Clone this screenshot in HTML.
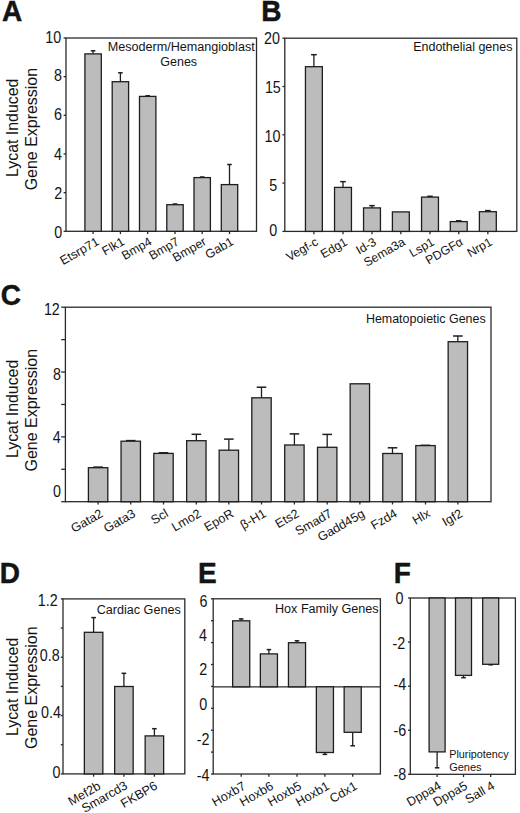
<!DOCTYPE html>
<html><head><meta charset="utf-8"><title>Figure</title>
<style>
html,body{margin:0;padding:0;background:#fff;}
body{width:520px;height:813px;overflow:hidden;}
svg{display:block;}
text{font-family:"Liberation Sans", sans-serif;}
</style></head>
<body>
<svg width="520" height="813" viewBox="0 0 520 813">
<rect x="0" y="0" width="520" height="813" fill="#fff"/>
<text transform="translate(2.00 20.82) scale(0.95 1)" x="0" y="0" font-size="29.5" font-weight="bold" fill="#141414" style="stroke:#111;stroke-width:0.45px">A</text>
<rect x="66.00" y="38.00" width="190.50" height="193.30" fill="none" stroke="#2a2a2a" stroke-width="1.3"/>
<line x1="63.60" y1="231.30" x2="66.00" y2="231.30" stroke="#2a2a2a" stroke-width="1.3"/>
<line x1="63.60" y1="192.64" x2="66.00" y2="192.64" stroke="#2a2a2a" stroke-width="1.3"/>
<line x1="63.60" y1="153.98" x2="66.00" y2="153.98" stroke="#2a2a2a" stroke-width="1.3"/>
<line x1="63.60" y1="115.32" x2="66.00" y2="115.32" stroke="#2a2a2a" stroke-width="1.3"/>
<line x1="63.60" y1="76.66" x2="66.00" y2="76.66" stroke="#2a2a2a" stroke-width="1.3"/>
<line x1="63.60" y1="38.00" x2="66.00" y2="38.00" stroke="#2a2a2a" stroke-width="1.3"/>
<text transform="translate(53.30 42.76) scale(0.89 1)" x="0" y="0" font-size="16.1" text-anchor="middle" fill="#141414">10</text>
<text transform="translate(58.10 81.16) scale(0.89 1)" x="0" y="0" font-size="16.1" text-anchor="middle" fill="#141414">8</text>
<text transform="translate(58.00 120.36) scale(0.89 1)" x="0" y="0" font-size="16.1" text-anchor="middle" fill="#141414">6</text>
<text transform="translate(58.00 159.81) scale(0.89 1)" x="0" y="0" font-size="16.1" text-anchor="middle" fill="#141414">4</text>
<text transform="translate(58.30 199.36) scale(0.89 1)" x="0" y="0" font-size="16.1" text-anchor="middle" fill="#141414">2</text>
<text transform="translate(58.15 237.66) scale(0.89 1)" x="0" y="0" font-size="16.1" text-anchor="middle" fill="#141414">0</text>
<line x1="93.10" y1="53.90" x2="93.10" y2="50.80" stroke="#1e1e1e" stroke-width="1.3"/>
<line x1="90.80" y1="50.80" x2="95.40" y2="50.80" stroke="#1e1e1e" stroke-width="1.5"/>
<rect x="84.90" y="53.90" width="16.40" height="177.40" fill="#bcbcbc" stroke="#1e1e1e" stroke-width="1.3"/>
<line x1="120.40" y1="81.70" x2="120.40" y2="72.80" stroke="#1e1e1e" stroke-width="1.3"/>
<line x1="118.10" y1="72.80" x2="122.70" y2="72.80" stroke="#1e1e1e" stroke-width="1.5"/>
<rect x="112.20" y="81.70" width="16.40" height="149.60" fill="#bcbcbc" stroke="#1e1e1e" stroke-width="1.3"/>
<line x1="147.70" y1="96.40" x2="147.70" y2="95.80" stroke="#1e1e1e" stroke-width="1.3"/>
<line x1="145.40" y1="95.80" x2="150.00" y2="95.80" stroke="#1e1e1e" stroke-width="1.5"/>
<rect x="139.50" y="96.40" width="16.40" height="134.90" fill="#bcbcbc" stroke="#1e1e1e" stroke-width="1.3"/>
<line x1="175.00" y1="204.70" x2="175.00" y2="204.00" stroke="#1e1e1e" stroke-width="1.3"/>
<line x1="172.70" y1="204.00" x2="177.30" y2="204.00" stroke="#1e1e1e" stroke-width="1.5"/>
<rect x="166.80" y="204.70" width="16.40" height="26.60" fill="#bcbcbc" stroke="#1e1e1e" stroke-width="1.3"/>
<line x1="199.90" y1="177.00" x2="204.50" y2="177.00" stroke="#1e1e1e" stroke-width="1.5"/>
<rect x="194.00" y="177.60" width="16.40" height="53.70" fill="#bcbcbc" stroke="#1e1e1e" stroke-width="1.3"/>
<line x1="229.50" y1="184.60" x2="229.50" y2="164.50" stroke="#1e1e1e" stroke-width="1.3"/>
<line x1="227.20" y1="164.50" x2="231.80" y2="164.50" stroke="#1e1e1e" stroke-width="1.5"/>
<rect x="221.30" y="184.60" width="16.40" height="46.70" fill="#bcbcbc" stroke="#1e1e1e" stroke-width="1.3"/>
<line x1="93.10" y1="231.30" x2="93.10" y2="234.10" stroke="#2a2a2a" stroke-width="1.3"/>
<line x1="120.40" y1="231.30" x2="120.40" y2="234.10" stroke="#2a2a2a" stroke-width="1.3"/>
<line x1="147.70" y1="231.30" x2="147.70" y2="234.10" stroke="#2a2a2a" stroke-width="1.3"/>
<line x1="175.00" y1="231.30" x2="175.00" y2="234.10" stroke="#2a2a2a" stroke-width="1.3"/>
<line x1="202.20" y1="231.30" x2="202.20" y2="234.10" stroke="#2a2a2a" stroke-width="1.3"/>
<line x1="229.50" y1="231.30" x2="229.50" y2="234.10" stroke="#2a2a2a" stroke-width="1.3"/>
<text x="100.00" y="244.00" font-size="12.4" text-anchor="end" fill="#141414" transform="rotate(-30 100.00 244.00)">Etsrp71</text>
<text x="125.40" y="244.00" font-size="12.4" text-anchor="end" fill="#141414" transform="rotate(-30 125.40 244.00)">Flk1</text>
<text x="152.70" y="244.00" font-size="12.4" text-anchor="end" fill="#141414" transform="rotate(-30 152.70 244.00)">Bmp4</text>
<text x="180.00" y="244.00" font-size="12.4" text-anchor="end" fill="#141414" transform="rotate(-30 180.00 244.00)">Bmp7</text>
<text x="207.20" y="244.00" font-size="12.4" text-anchor="end" fill="#141414" transform="rotate(-30 207.20 244.00)">Bmper</text>
<text x="234.50" y="244.00" font-size="12.4" text-anchor="end" fill="#141414" transform="rotate(-30 234.50 244.00)">Gab1</text>
<text x="107.70" y="50.80" font-size="12.5" text-anchor="start" font-weight="normal" fill="#141414" textLength="147" lengthAdjust="spacingAndGlyphs" >Mesoderm/Hemangioblast</text>
<text x="178.70" y="65.60" font-size="12.5" text-anchor="middle" font-weight="normal" fill="#141414" >Genes</text>
<text x="0" y="0" font-size="16.2" text-anchor="middle" fill="#141414" transform="translate(17.70 127.80) rotate(-90)" textLength="98.3" lengthAdjust="spacingAndGlyphs">Lycat Induced</text>
<text x="0" y="0" font-size="16.2" text-anchor="middle" fill="#141414" transform="translate(36.90 129.10) rotate(-90)" textLength="122.5" lengthAdjust="spacingAndGlyphs">Gene Expression</text>
<text transform="translate(261.30 21.12) scale(0.95 1)" x="0" y="0" font-size="29.5" font-weight="bold" fill="#141414" style="stroke:#111;stroke-width:0.45px">B</text>
<rect x="284.80" y="38.20" width="232.00" height="193.20" fill="none" stroke="#2a2a2a" stroke-width="1.3"/>
<line x1="282.40" y1="231.40" x2="284.80" y2="231.40" stroke="#2a2a2a" stroke-width="1.3"/>
<line x1="282.40" y1="183.10" x2="284.80" y2="183.10" stroke="#2a2a2a" stroke-width="1.3"/>
<line x1="282.40" y1="134.80" x2="284.80" y2="134.80" stroke="#2a2a2a" stroke-width="1.3"/>
<line x1="282.40" y1="86.50" x2="284.80" y2="86.50" stroke="#2a2a2a" stroke-width="1.3"/>
<line x1="282.40" y1="38.20" x2="284.80" y2="38.20" stroke="#2a2a2a" stroke-width="1.3"/>
<text transform="translate(272.00 44.01) scale(0.89 1)" x="0" y="0" font-size="16.1" text-anchor="middle" fill="#141414">20</text>
<text transform="translate(272.85 93.01) scale(0.89 1)" x="0" y="0" font-size="16.1" text-anchor="middle" fill="#141414">15</text>
<text transform="translate(272.40 142.16) scale(0.89 1)" x="0" y="0" font-size="16.1" text-anchor="middle" fill="#141414">10</text>
<text transform="translate(273.15 190.86) scale(0.89 1)" x="0" y="0" font-size="16.1" text-anchor="middle" fill="#141414">5</text>
<text transform="translate(273.15 235.66) scale(0.89 1)" x="0" y="0" font-size="16.1" text-anchor="middle" fill="#141414">0</text>
<line x1="313.90" y1="66.70" x2="313.90" y2="54.70" stroke="#1e1e1e" stroke-width="1.3"/>
<line x1="311.10" y1="54.70" x2="316.70" y2="54.70" stroke="#1e1e1e" stroke-width="1.5"/>
<rect x="305.45" y="66.70" width="16.90" height="164.70" fill="#bcbcbc" stroke="#1e1e1e" stroke-width="1.3"/>
<line x1="343.00" y1="187.40" x2="343.00" y2="181.65" stroke="#1e1e1e" stroke-width="1.3"/>
<line x1="340.20" y1="181.65" x2="345.80" y2="181.65" stroke="#1e1e1e" stroke-width="1.5"/>
<rect x="334.55" y="187.40" width="16.90" height="44.00" fill="#bcbcbc" stroke="#1e1e1e" stroke-width="1.3"/>
<line x1="372.00" y1="207.90" x2="372.00" y2="205.65" stroke="#1e1e1e" stroke-width="1.3"/>
<line x1="369.20" y1="205.65" x2="374.80" y2="205.65" stroke="#1e1e1e" stroke-width="1.5"/>
<rect x="363.55" y="207.90" width="16.90" height="23.50" fill="#bcbcbc" stroke="#1e1e1e" stroke-width="1.3"/>
<rect x="392.40" y="211.90" width="16.90" height="19.50" fill="#bcbcbc" stroke="#1e1e1e" stroke-width="1.3"/>
<line x1="430.00" y1="197.10" x2="430.00" y2="196.30" stroke="#1e1e1e" stroke-width="1.3"/>
<line x1="427.20" y1="196.30" x2="432.80" y2="196.30" stroke="#1e1e1e" stroke-width="1.5"/>
<rect x="421.55" y="197.10" width="16.90" height="34.30" fill="#bcbcbc" stroke="#1e1e1e" stroke-width="1.3"/>
<line x1="458.75" y1="221.60" x2="458.75" y2="220.80" stroke="#1e1e1e" stroke-width="1.3"/>
<line x1="455.95" y1="220.80" x2="461.55" y2="220.80" stroke="#1e1e1e" stroke-width="1.5"/>
<rect x="450.30" y="221.60" width="16.90" height="9.80" fill="#bcbcbc" stroke="#1e1e1e" stroke-width="1.3"/>
<line x1="487.85" y1="211.70" x2="487.85" y2="210.60" stroke="#1e1e1e" stroke-width="1.3"/>
<line x1="485.05" y1="210.60" x2="490.65" y2="210.60" stroke="#1e1e1e" stroke-width="1.5"/>
<rect x="479.40" y="211.70" width="16.90" height="19.70" fill="#bcbcbc" stroke="#1e1e1e" stroke-width="1.3"/>
<line x1="313.90" y1="231.40" x2="313.90" y2="234.20" stroke="#2a2a2a" stroke-width="1.3"/>
<line x1="343.00" y1="231.40" x2="343.00" y2="234.20" stroke="#2a2a2a" stroke-width="1.3"/>
<line x1="372.00" y1="231.40" x2="372.00" y2="234.20" stroke="#2a2a2a" stroke-width="1.3"/>
<line x1="400.85" y1="231.40" x2="400.85" y2="234.20" stroke="#2a2a2a" stroke-width="1.3"/>
<line x1="430.00" y1="231.40" x2="430.00" y2="234.20" stroke="#2a2a2a" stroke-width="1.3"/>
<line x1="458.75" y1="231.40" x2="458.75" y2="234.20" stroke="#2a2a2a" stroke-width="1.3"/>
<line x1="487.85" y1="231.40" x2="487.85" y2="234.20" stroke="#2a2a2a" stroke-width="1.3"/>
<text x="319.10" y="244.30" font-size="12.2" text-anchor="end" fill="#141414" transform="rotate(-30 319.10 244.30)">Vegf-c</text>
<text x="348.20" y="244.30" font-size="12.2" text-anchor="end" fill="#141414" transform="rotate(-30 348.20 244.30)">Edg1</text>
<text x="377.20" y="244.30" font-size="12.2" text-anchor="end" fill="#141414" transform="rotate(-30 377.20 244.30)">Id-3</text>
<text x="406.05" y="244.30" font-size="12.2" text-anchor="end" fill="#141414" transform="rotate(-30 406.05 244.30)">Sema3a</text>
<text x="435.20" y="244.30" font-size="12.2" text-anchor="end" fill="#141414" transform="rotate(-30 435.20 244.30)">Lsp1</text>
<text x="463.95" y="244.30" font-size="12.2" text-anchor="end" fill="#141414" transform="rotate(-30 463.95 244.30)">PDGF&#945;</text>
<text x="493.05" y="244.30" font-size="12.2" text-anchor="end" fill="#141414" transform="rotate(-30 493.05 244.30)">Nrp1</text>
<text x="413.20" y="51.10" font-size="12.5" text-anchor="start" font-weight="normal" fill="#141414" textLength="99.2" lengthAdjust="spacingAndGlyphs" >Endothelial genes</text>
<text transform="translate(0.70 304.92) scale(0.95 1)" x="0" y="0" font-size="29.5" font-weight="bold" fill="#141414" style="stroke:#111;stroke-width:0.45px">C</text>
<rect x="65.40" y="307.20" width="425.60" height="194.50" fill="none" stroke="#2a2a2a" stroke-width="1.3"/>
<line x1="61.20" y1="501.70" x2="65.40" y2="501.70" stroke="#2a2a2a" stroke-width="1.3"/>
<line x1="61.20" y1="469.28" x2="65.40" y2="469.28" stroke="#2a2a2a" stroke-width="1.3"/>
<line x1="61.20" y1="436.87" x2="65.40" y2="436.87" stroke="#2a2a2a" stroke-width="1.3"/>
<line x1="61.20" y1="404.45" x2="65.40" y2="404.45" stroke="#2a2a2a" stroke-width="1.3"/>
<line x1="61.20" y1="372.03" x2="65.40" y2="372.03" stroke="#2a2a2a" stroke-width="1.3"/>
<line x1="61.20" y1="339.62" x2="65.40" y2="339.62" stroke="#2a2a2a" stroke-width="1.3"/>
<line x1="61.20" y1="307.20" x2="65.40" y2="307.20" stroke="#2a2a2a" stroke-width="1.3"/>
<text transform="translate(51.85 315.11) scale(0.89 1)" x="0" y="0" font-size="16.1" text-anchor="middle" fill="#141414">12</text>
<text transform="translate(56.95 379.66) scale(0.89 1)" x="0" y="0" font-size="16.1" text-anchor="middle" fill="#141414">8</text>
<text transform="translate(56.80 443.26) scale(0.89 1)" x="0" y="0" font-size="16.1" text-anchor="middle" fill="#141414">4</text>
<text transform="translate(57.00 496.56) scale(0.89 1)" x="0" y="0" font-size="16.1" text-anchor="middle" fill="#141414">0</text>
<line x1="93.30" y1="467.10" x2="102.90" y2="467.10" stroke="#1e1e1e" stroke-width="1.5"/>
<rect x="88.40" y="467.70" width="19.40" height="34.00" fill="#bcbcbc" stroke="#1e1e1e" stroke-width="1.3"/>
<line x1="125.95" y1="440.60" x2="135.55" y2="440.60" stroke="#1e1e1e" stroke-width="1.5"/>
<rect x="121.05" y="441.20" width="19.40" height="60.50" fill="#bcbcbc" stroke="#1e1e1e" stroke-width="1.3"/>
<line x1="158.70" y1="452.80" x2="168.30" y2="452.80" stroke="#1e1e1e" stroke-width="1.5"/>
<rect x="153.80" y="453.40" width="19.40" height="48.30" fill="#bcbcbc" stroke="#1e1e1e" stroke-width="1.3"/>
<line x1="196.35" y1="440.70" x2="196.35" y2="434.30" stroke="#1e1e1e" stroke-width="1.3"/>
<line x1="191.55" y1="434.30" x2="201.15" y2="434.30" stroke="#1e1e1e" stroke-width="1.5"/>
<rect x="186.65" y="440.70" width="19.40" height="61.00" fill="#bcbcbc" stroke="#1e1e1e" stroke-width="1.3"/>
<line x1="228.85" y1="450.20" x2="228.85" y2="439.10" stroke="#1e1e1e" stroke-width="1.3"/>
<line x1="224.05" y1="439.10" x2="233.65" y2="439.10" stroke="#1e1e1e" stroke-width="1.5"/>
<rect x="219.15" y="450.20" width="19.40" height="51.50" fill="#bcbcbc" stroke="#1e1e1e" stroke-width="1.3"/>
<line x1="261.50" y1="397.80" x2="261.50" y2="387.20" stroke="#1e1e1e" stroke-width="1.3"/>
<line x1="256.70" y1="387.20" x2="266.30" y2="387.20" stroke="#1e1e1e" stroke-width="1.5"/>
<rect x="251.80" y="397.80" width="19.40" height="103.90" fill="#bcbcbc" stroke="#1e1e1e" stroke-width="1.3"/>
<line x1="294.40" y1="445.00" x2="294.40" y2="433.90" stroke="#1e1e1e" stroke-width="1.3"/>
<line x1="289.60" y1="433.90" x2="299.20" y2="433.90" stroke="#1e1e1e" stroke-width="1.5"/>
<rect x="284.70" y="445.00" width="19.40" height="56.70" fill="#bcbcbc" stroke="#1e1e1e" stroke-width="1.3"/>
<line x1="327.20" y1="447.30" x2="327.20" y2="434.40" stroke="#1e1e1e" stroke-width="1.3"/>
<line x1="322.40" y1="434.40" x2="332.00" y2="434.40" stroke="#1e1e1e" stroke-width="1.5"/>
<rect x="317.50" y="447.30" width="19.40" height="54.40" fill="#bcbcbc" stroke="#1e1e1e" stroke-width="1.3"/>
<rect x="350.15" y="383.80" width="19.40" height="117.90" fill="#bcbcbc" stroke="#1e1e1e" stroke-width="1.3"/>
<line x1="392.50" y1="453.50" x2="392.50" y2="447.80" stroke="#1e1e1e" stroke-width="1.3"/>
<line x1="387.70" y1="447.80" x2="397.30" y2="447.80" stroke="#1e1e1e" stroke-width="1.5"/>
<rect x="382.80" y="453.50" width="19.40" height="48.20" fill="#bcbcbc" stroke="#1e1e1e" stroke-width="1.3"/>
<line x1="420.70" y1="445.30" x2="430.30" y2="445.30" stroke="#1e1e1e" stroke-width="1.5"/>
<rect x="415.80" y="445.60" width="19.40" height="56.10" fill="#bcbcbc" stroke="#1e1e1e" stroke-width="1.3"/>
<line x1="457.85" y1="341.70" x2="457.85" y2="336.00" stroke="#1e1e1e" stroke-width="1.3"/>
<line x1="453.05" y1="336.00" x2="462.65" y2="336.00" stroke="#1e1e1e" stroke-width="1.5"/>
<rect x="448.15" y="341.70" width="19.40" height="160.00" fill="#bcbcbc" stroke="#1e1e1e" stroke-width="1.3"/>
<line x1="98.10" y1="501.70" x2="98.10" y2="504.50" stroke="#2a2a2a" stroke-width="1.3"/>
<line x1="130.75" y1="501.70" x2="130.75" y2="504.50" stroke="#2a2a2a" stroke-width="1.3"/>
<line x1="163.50" y1="501.70" x2="163.50" y2="504.50" stroke="#2a2a2a" stroke-width="1.3"/>
<line x1="196.35" y1="501.70" x2="196.35" y2="504.50" stroke="#2a2a2a" stroke-width="1.3"/>
<line x1="228.85" y1="501.70" x2="228.85" y2="504.50" stroke="#2a2a2a" stroke-width="1.3"/>
<line x1="261.50" y1="501.70" x2="261.50" y2="504.50" stroke="#2a2a2a" stroke-width="1.3"/>
<line x1="294.40" y1="501.70" x2="294.40" y2="504.50" stroke="#2a2a2a" stroke-width="1.3"/>
<line x1="327.20" y1="501.70" x2="327.20" y2="504.50" stroke="#2a2a2a" stroke-width="1.3"/>
<line x1="359.85" y1="501.70" x2="359.85" y2="504.50" stroke="#2a2a2a" stroke-width="1.3"/>
<line x1="392.50" y1="501.70" x2="392.50" y2="504.50" stroke="#2a2a2a" stroke-width="1.3"/>
<line x1="425.50" y1="501.70" x2="425.50" y2="504.50" stroke="#2a2a2a" stroke-width="1.3"/>
<line x1="457.85" y1="501.70" x2="457.85" y2="504.50" stroke="#2a2a2a" stroke-width="1.3"/>
<text x="103.80" y="515.90" font-size="12.6" text-anchor="end" fill="#141414" transform="rotate(-30 103.80 515.90)">Gata2</text>
<text x="136.45" y="515.90" font-size="12.6" text-anchor="end" fill="#141414" transform="rotate(-30 136.45 515.90)">Gata3</text>
<text x="169.20" y="515.90" font-size="12.6" text-anchor="end" fill="#141414" transform="rotate(-30 169.20 515.90)">Scl</text>
<text x="202.05" y="515.90" font-size="12.6" text-anchor="end" fill="#141414" transform="rotate(-30 202.05 515.90)">Lmo2</text>
<text x="234.55" y="515.90" font-size="12.6" text-anchor="end" fill="#141414" transform="rotate(-30 234.55 515.90)">EpoR</text>
<text x="267.20" y="515.90" font-size="12.6" text-anchor="end" fill="#141414" transform="rotate(-30 267.20 515.90)">&#946;-H1</text>
<text x="300.10" y="515.90" font-size="12.6" text-anchor="end" fill="#141414" transform="rotate(-30 300.10 515.90)">Ets2</text>
<text x="332.90" y="515.90" font-size="12.6" text-anchor="end" fill="#141414" transform="rotate(-30 332.90 515.90)">Smad7</text>
<text x="365.55" y="515.90" font-size="12.6" text-anchor="end" fill="#141414" transform="rotate(-30 365.55 515.90)">Gadd45g</text>
<text x="398.20" y="515.90" font-size="12.6" text-anchor="end" fill="#141414" transform="rotate(-30 398.20 515.90)">Fzd4</text>
<text x="431.20" y="515.90" font-size="12.6" text-anchor="end" fill="#141414" transform="rotate(-30 431.20 515.90)">Hlx</text>
<text x="463.55" y="515.90" font-size="12.6" text-anchor="end" fill="#141414" transform="rotate(-30 463.55 515.90)">Igf2</text>
<text x="365.90" y="322.70" font-size="12.5" text-anchor="start" font-weight="normal" fill="#141414" textLength="119.8" lengthAdjust="spacingAndGlyphs" >Hematopoietic Genes</text>
<text x="0" y="0" font-size="16.2" text-anchor="middle" fill="#141414" transform="translate(17.70 408.90) rotate(-90)" textLength="98.3" lengthAdjust="spacingAndGlyphs">Lycat Induced</text>
<text x="0" y="0" font-size="16.2" text-anchor="middle" fill="#141414" transform="translate(36.90 410.20) rotate(-90)" textLength="122.5" lengthAdjust="spacingAndGlyphs">Gene Expression</text>
<text transform="translate(-0.30 583.02) scale(0.95 1)" x="0" y="0" font-size="29.5" font-weight="bold" fill="#141414" style="stroke:#111;stroke-width:0.45px">D</text>
<rect x="63.00" y="598.90" width="121.80" height="175.00" fill="none" stroke="#2a2a2a" stroke-width="1.3"/>
<line x1="60.80" y1="773.90" x2="63.00" y2="773.90" stroke="#2a2a2a" stroke-width="1.3"/>
<line x1="60.80" y1="744.73" x2="63.00" y2="744.73" stroke="#2a2a2a" stroke-width="1.3"/>
<line x1="60.80" y1="715.57" x2="63.00" y2="715.57" stroke="#2a2a2a" stroke-width="1.3"/>
<line x1="60.80" y1="686.40" x2="63.00" y2="686.40" stroke="#2a2a2a" stroke-width="1.3"/>
<line x1="60.80" y1="657.23" x2="63.00" y2="657.23" stroke="#2a2a2a" stroke-width="1.3"/>
<line x1="60.80" y1="628.07" x2="63.00" y2="628.07" stroke="#2a2a2a" stroke-width="1.3"/>
<line x1="60.80" y1="598.90" x2="63.00" y2="598.90" stroke="#2a2a2a" stroke-width="1.3"/>
<text transform="translate(47.75 606.46) scale(0.89 1)" x="0" y="0" font-size="16.1" text-anchor="middle" fill="#141414">1.2</text>
<text transform="translate(49.70 660.76) scale(0.89 1)" x="0" y="0" font-size="16.1" text-anchor="middle" fill="#141414">0.8</text>
<text transform="translate(50.90 717.56) scale(0.89 1)" x="0" y="0" font-size="16.1" text-anchor="middle" fill="#141414">0.4</text>
<text transform="translate(56.60 778.16) scale(0.89 1)" x="0" y="0" font-size="16.1" text-anchor="middle" fill="#141414">0</text>
<line x1="93.60" y1="632.30" x2="93.60" y2="617.60" stroke="#1e1e1e" stroke-width="1.3"/>
<line x1="91.30" y1="617.60" x2="95.90" y2="617.60" stroke="#1e1e1e" stroke-width="1.5"/>
<rect x="84.35" y="632.30" width="18.50" height="141.60" fill="#bcbcbc" stroke="#1e1e1e" stroke-width="1.3"/>
<line x1="123.90" y1="686.50" x2="123.90" y2="673.30" stroke="#1e1e1e" stroke-width="1.3"/>
<line x1="121.60" y1="673.30" x2="126.20" y2="673.30" stroke="#1e1e1e" stroke-width="1.5"/>
<rect x="114.65" y="686.50" width="18.50" height="87.40" fill="#bcbcbc" stroke="#1e1e1e" stroke-width="1.3"/>
<line x1="154.40" y1="735.90" x2="154.40" y2="728.70" stroke="#1e1e1e" stroke-width="1.3"/>
<line x1="152.10" y1="728.70" x2="156.70" y2="728.70" stroke="#1e1e1e" stroke-width="1.5"/>
<rect x="145.15" y="735.90" width="18.50" height="38.00" fill="#bcbcbc" stroke="#1e1e1e" stroke-width="1.3"/>
<line x1="93.60" y1="773.90" x2="93.60" y2="776.70" stroke="#2a2a2a" stroke-width="1.3"/>
<line x1="123.90" y1="773.90" x2="123.90" y2="776.70" stroke="#2a2a2a" stroke-width="1.3"/>
<line x1="154.40" y1="773.90" x2="154.40" y2="776.70" stroke="#2a2a2a" stroke-width="1.3"/>
<text x="101.60" y="788.40" font-size="12.6" text-anchor="end" fill="#141414" transform="rotate(-30 101.60 788.40)">Mef2b</text>
<text x="128.40" y="787.90" font-size="12.6" text-anchor="end" fill="#141414" transform="rotate(-30 128.40 787.90)">Smarcd3</text>
<text x="158.40" y="788.20" font-size="12.6" text-anchor="end" fill="#141414" transform="rotate(-30 158.40 788.20)">FKBP6</text>
<text x="96.70" y="613.60" font-size="12.5" text-anchor="start" font-weight="normal" fill="#141414" textLength="84.0" lengthAdjust="spacingAndGlyphs" >Cardiac Genes</text>
<text x="0" y="0" font-size="16.2" text-anchor="middle" fill="#141414" transform="translate(17.70 686.90) rotate(-90)" textLength="98.3" lengthAdjust="spacingAndGlyphs">Lycat Induced</text>
<text x="0" y="0" font-size="16.2" text-anchor="middle" fill="#141414" transform="translate(36.90 687.70) rotate(-90)" textLength="122.5" lengthAdjust="spacingAndGlyphs">Gene Expression</text>
<text transform="translate(198.00 583.32) scale(0.95 1)" x="0" y="0" font-size="29.5" font-weight="bold" fill="#141414" style="stroke:#111;stroke-width:0.45px">E</text>
<rect x="213.20" y="598.80" width="167.20" height="175.20" fill="none" stroke="#2a2a2a" stroke-width="1.3"/>
<line x1="211.00" y1="598.80" x2="213.20" y2="598.80" stroke="#2a2a2a" stroke-width="1.3"/>
<line x1="211.00" y1="620.70" x2="213.20" y2="620.70" stroke="#2a2a2a" stroke-width="1.3"/>
<line x1="211.00" y1="642.60" x2="213.20" y2="642.60" stroke="#2a2a2a" stroke-width="1.3"/>
<line x1="211.00" y1="664.50" x2="213.20" y2="664.50" stroke="#2a2a2a" stroke-width="1.3"/>
<line x1="211.00" y1="686.40" x2="213.20" y2="686.40" stroke="#2a2a2a" stroke-width="1.3"/>
<line x1="211.00" y1="708.30" x2="213.20" y2="708.30" stroke="#2a2a2a" stroke-width="1.3"/>
<line x1="211.00" y1="730.20" x2="213.20" y2="730.20" stroke="#2a2a2a" stroke-width="1.3"/>
<line x1="211.00" y1="752.10" x2="213.20" y2="752.10" stroke="#2a2a2a" stroke-width="1.3"/>
<line x1="211.00" y1="774.00" x2="213.20" y2="774.00" stroke="#2a2a2a" stroke-width="1.3"/>
<line x1="213.20" y1="686.80" x2="380.40" y2="686.80" stroke="#2a2a2a" stroke-width="1.3"/>
<text transform="translate(203.45 606.76) scale(0.89 1)" x="0" y="0" font-size="16.1" text-anchor="middle" fill="#141414">6</text>
<text transform="translate(203.05 640.96) scale(0.89 1)" x="0" y="0" font-size="16.1" text-anchor="middle" fill="#141414">4</text>
<text transform="translate(203.20 674.86) scale(0.89 1)" x="0" y="0" font-size="16.1" text-anchor="middle" fill="#141414">2</text>
<text transform="translate(203.30 710.26) scale(0.89 1)" x="0" y="0" font-size="16.1" text-anchor="middle" fill="#141414">0</text>
<text transform="translate(203.10 744.66) scale(0.89 1)" x="0" y="0" font-size="16.1" text-anchor="middle" fill="#141414">-2</text>
<text transform="translate(203.10 780.66) scale(0.89 1)" x="0" y="0" font-size="16.1" text-anchor="middle" fill="#141414">-4</text>
<line x1="241.20" y1="620.80" x2="241.20" y2="618.90" stroke="#1e1e1e" stroke-width="1.3"/>
<line x1="238.90" y1="618.90" x2="243.50" y2="618.90" stroke="#1e1e1e" stroke-width="1.5"/>
<rect x="232.65" y="620.80" width="17.10" height="66.00" fill="#bcbcbc" stroke="#1e1e1e" stroke-width="1.3"/>
<line x1="268.90" y1="653.90" x2="268.90" y2="649.60" stroke="#1e1e1e" stroke-width="1.3"/>
<line x1="266.60" y1="649.60" x2="271.20" y2="649.60" stroke="#1e1e1e" stroke-width="1.5"/>
<rect x="260.35" y="653.90" width="17.10" height="32.90" fill="#bcbcbc" stroke="#1e1e1e" stroke-width="1.3"/>
<line x1="297.00" y1="642.70" x2="297.00" y2="640.80" stroke="#1e1e1e" stroke-width="1.3"/>
<line x1="294.70" y1="640.80" x2="299.30" y2="640.80" stroke="#1e1e1e" stroke-width="1.5"/>
<rect x="288.45" y="642.70" width="17.10" height="44.10" fill="#bcbcbc" stroke="#1e1e1e" stroke-width="1.3"/>
<line x1="324.90" y1="752.50" x2="324.90" y2="754.40" stroke="#1e1e1e" stroke-width="1.3"/>
<line x1="322.60" y1="754.40" x2="327.20" y2="754.40" stroke="#1e1e1e" stroke-width="1.5"/>
<rect x="316.35" y="686.80" width="17.10" height="65.70" fill="#bcbcbc" stroke="#1e1e1e" stroke-width="1.3"/>
<line x1="352.70" y1="732.30" x2="352.70" y2="745.80" stroke="#1e1e1e" stroke-width="1.3"/>
<line x1="350.40" y1="745.80" x2="355.00" y2="745.80" stroke="#1e1e1e" stroke-width="1.5"/>
<rect x="344.15" y="686.80" width="17.10" height="45.50" fill="#bcbcbc" stroke="#1e1e1e" stroke-width="1.3"/>
<line x1="241.20" y1="774.00" x2="241.20" y2="776.80" stroke="#2a2a2a" stroke-width="1.3"/>
<line x1="268.90" y1="774.00" x2="268.90" y2="776.80" stroke="#2a2a2a" stroke-width="1.3"/>
<line x1="297.00" y1="774.00" x2="297.00" y2="776.80" stroke="#2a2a2a" stroke-width="1.3"/>
<line x1="324.90" y1="774.00" x2="324.90" y2="776.80" stroke="#2a2a2a" stroke-width="1.3"/>
<line x1="352.70" y1="774.00" x2="352.70" y2="776.80" stroke="#2a2a2a" stroke-width="1.3"/>
<text x="246.60" y="788.50" font-size="12.6" text-anchor="end" fill="#141414" transform="rotate(-30 246.60 788.50)">Hoxb7</text>
<text x="274.30" y="788.50" font-size="12.6" text-anchor="end" fill="#141414" transform="rotate(-30 274.30 788.50)">Hoxb6</text>
<text x="302.40" y="788.50" font-size="12.6" text-anchor="end" fill="#141414" transform="rotate(-30 302.40 788.50)">Hoxb5</text>
<text x="330.30" y="788.50" font-size="12.6" text-anchor="end" fill="#141414" transform="rotate(-30 330.30 788.50)">Hoxb1</text>
<text x="358.10" y="788.50" font-size="12.6" text-anchor="end" fill="#141414" transform="rotate(-30 358.10 788.50)">Cdx1</text>
<text x="275.00" y="612.90" font-size="12.5" text-anchor="start" font-weight="normal" fill="#141414" textLength="103.6" lengthAdjust="spacingAndGlyphs" >Hox Family Genes</text>
<text transform="translate(393.80 582.52) scale(0.95 1)" x="0" y="0" font-size="29.5" font-weight="bold" fill="#141414" style="stroke:#111;stroke-width:0.45px">F</text>
<rect x="410.30" y="598.00" width="105.10" height="176.30" fill="none" stroke="#2a2a2a" stroke-width="1.3"/>
<line x1="408.00" y1="598.00" x2="410.30" y2="598.00" stroke="#2a2a2a" stroke-width="1.3"/>
<line x1="408.00" y1="642.08" x2="410.30" y2="642.08" stroke="#2a2a2a" stroke-width="1.3"/>
<line x1="408.00" y1="686.15" x2="410.30" y2="686.15" stroke="#2a2a2a" stroke-width="1.3"/>
<line x1="408.00" y1="730.22" x2="410.30" y2="730.22" stroke="#2a2a2a" stroke-width="1.3"/>
<line x1="408.00" y1="774.30" x2="410.30" y2="774.30" stroke="#2a2a2a" stroke-width="1.3"/>
<text transform="translate(399.50 604.06) scale(0.89 1)" x="0" y="0" font-size="16.1" text-anchor="middle" fill="#141414">0</text>
<text transform="translate(398.85 649.26) scale(0.89 1)" x="0" y="0" font-size="16.1" text-anchor="middle" fill="#141414">-2</text>
<text transform="translate(399.75 690.26) scale(0.89 1)" x="0" y="0" font-size="16.1" text-anchor="middle" fill="#141414">-4</text>
<text transform="translate(399.75 735.86) scale(0.89 1)" x="0" y="0" font-size="16.1" text-anchor="middle" fill="#141414">-6</text>
<text transform="translate(399.75 779.86) scale(0.89 1)" x="0" y="0" font-size="16.1" text-anchor="middle" fill="#141414">-8</text>
<line x1="437.10" y1="751.90" x2="437.10" y2="767.80" stroke="#1e1e1e" stroke-width="1.3"/>
<line x1="434.80" y1="767.80" x2="439.40" y2="767.80" stroke="#1e1e1e" stroke-width="1.5"/>
<rect x="429.10" y="598.00" width="16.00" height="153.90" fill="#bcbcbc" stroke="#1e1e1e" stroke-width="1.3"/>
<line x1="463.50" y1="675.40" x2="463.50" y2="677.70" stroke="#1e1e1e" stroke-width="1.3"/>
<line x1="461.20" y1="677.70" x2="465.80" y2="677.70" stroke="#1e1e1e" stroke-width="1.5"/>
<rect x="455.50" y="598.00" width="16.00" height="77.40" fill="#bcbcbc" stroke="#1e1e1e" stroke-width="1.3"/>
<line x1="488.40" y1="664.80" x2="493.00" y2="664.80" stroke="#1e1e1e" stroke-width="1.5"/>
<rect x="482.70" y="598.00" width="16.00" height="66.30" fill="#bcbcbc" stroke="#1e1e1e" stroke-width="1.3"/>
<line x1="437.10" y1="774.30" x2="437.10" y2="777.10" stroke="#2a2a2a" stroke-width="1.3"/>
<line x1="463.50" y1="774.30" x2="463.50" y2="777.10" stroke="#2a2a2a" stroke-width="1.3"/>
<line x1="490.70" y1="774.30" x2="490.70" y2="777.10" stroke="#2a2a2a" stroke-width="1.3"/>
<text x="442.00" y="788.30" font-size="12.6" text-anchor="end" fill="#141414" transform="rotate(-30 442.00 788.30)">Dppa4</text>
<text x="468.40" y="788.30" font-size="12.6" text-anchor="end" fill="#141414" transform="rotate(-30 468.40 788.30)">Dppa5</text>
<text x="495.60" y="788.30" font-size="12.6" text-anchor="end" fill="#141414" transform="rotate(-30 495.60 788.30)">Sall 4</text>
<text x="449.20" y="757.90" font-size="11" text-anchor="start" font-weight="normal" fill="#141414" textLength="59.5" lengthAdjust="spacingAndGlyphs" >Pluripotency</text>
<text x="449.20" y="770.80" font-size="11" text-anchor="start" font-weight="normal" fill="#141414" >Genes</text>
</svg>
</body></html>
